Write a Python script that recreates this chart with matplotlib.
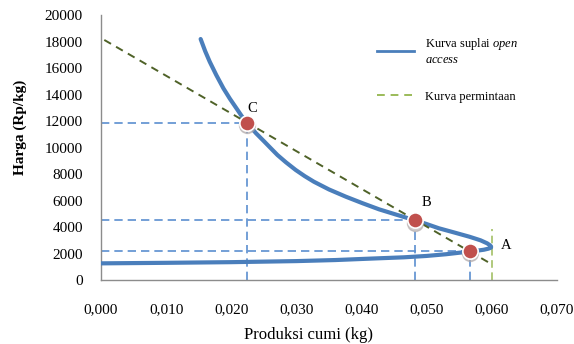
import matplotlib
matplotlib.use("Agg")
import matplotlib.pyplot as plt
from matplotlib.lines import Line2D
from matplotlib.transforms import ScaledTranslation

plt.rcParams['font.family'] = ['Liberation Serif', 'DejaVu Serif']
plt.rcParams['mathtext.fontset'] = 'custom'
plt.rcParams['mathtext.it'] = 'Liberation Serif:italic'
plt.rcParams['mathtext.rm'] = 'Liberation Serif'

# Backward-bending open access supply curve (quantity, price):
# lower branch from the price axis out to the turning point, then back up
supply_q = [0.0000, 0.0100, 0.0200, 0.0300, 0.0360, 0.0420, 0.0465, 0.0500,
            0.0530, 0.0555, 0.0575, 0.0588, 0.0595, 0.0599, 0.0599, 0.0597,
            0.0593, 0.0583, 0.0566, 0.0542, 0.0519, 0.0499, 0.0477, 0.0453,
            0.0427, 0.0402, 0.0376, 0.0350, 0.0327, 0.0313, 0.0299, 0.0284,
            0.0271, 0.0262, 0.0251, 0.0238, 0.0224, 0.0216, 0.0208, 0.0198,
            0.0188, 0.0177, 0.0167, 0.0160, 0.0153]
supply_p = [1260, 1300, 1350, 1430, 1510, 1630, 1716, 1820,
            1950, 2090, 2200, 2290, 2370, 2450, 2540, 2640,
            2775, 3000, 3270, 3600, 3910, 4250, 4590, 4950,
            5345, 5800, 6300, 6850, 7430, 7850, 8320, 8900,
            9450, 9900, 10455, 11100, 11890, 12400, 12980, 13700,
            14490, 15500, 16500, 17300, 18220]

# Demand curve end points
demand_q = [0.0005, 0.0596]
demand_p = [18150, 1310]

# Vertical marker at the maximum supply
max_q = 0.0600
max_p = 3880

# Equilibrium points
point_names = ['C', 'B', 'A']
point_q = [0.0224, 0.0483, 0.0566]
point_p = [11900, 4550, 2220]

x_ticks = [0.00, 0.01, 0.02, 0.03, 0.04, 0.05, 0.06, 0.07]
x_tick_labels = ['0,000', '0,010', '0,020', '0,030', '0,040', '0,050', '0,060', '0,070']
y_ticks = list(range(0, 20001, 2000))

blue = '#4a7ebb'
ref_blue = '#5b8fd0'
olive = '#4f6228'
light_green = '#9bbb59'
red = '#c0504d'

fig = plt.figure(figsize=(5.74, 3.44), dpi=100)
ax = fig.add_axes([0.176, 0.186, 0.794, 0.769])

# Dashed guides from each point to the axes
for q, p in zip(point_q, point_p):
    ax.plot([0, q], [p, p], color=ref_blue, lw=1.2, ls=(0, (5, 3)), zorder=2)
    ax.plot([q, q], [0, p], color=ref_blue, lw=1.2, ls=(0, (5, 3)), zorder=2)

ax.plot([max_q, max_q], [0, max_p], color=light_green, lw=1.1, ls=(0, (5, 3)), zorder=2)

ax.plot(supply_q, supply_p, color=blue, lw=3.0, solid_capstyle='round',
        solid_joinstyle='round', zorder=3)
ax.plot(demand_q, demand_p, color=olive, lw=1.4, ls=(0, (4, 3)), zorder=4)

# Points with a soft shadow
shadow = ax.transData + ScaledTranslation(0, -2 / 72, fig.dpi_scale_trans)
ax.plot(point_q, point_p, 'o', ms=11.5, color='#b0a8a8', alpha=0.6,
        transform=shadow, zorder=5)
ax.plot(point_q, point_p, 'o', ms=11, mfc=red, mec='white', mew=1.2, zorder=6)

label_offsets = [(4.1, 10.4), (7.9, 12.5), (26.6, 3.4)]
for name, q, p, off in zip(point_names, point_q, point_p, label_offsets):
    ax.annotate(name, (q, p), xytext=off, textcoords='offset points',
                fontsize=10.5, ha='center', va='center')

ax.set_xlim(0, 0.07)
ax.set_ylim(0, 20000)
ax.set_xticks(x_ticks)
ax.set_xticklabels(x_tick_labels)
ax.set_yticks(y_ticks)
ax.tick_params(axis='both', length=0, labelsize=11)
ax.tick_params(axis='x', pad=17)
ax.tick_params(axis='y', pad=13)
for s in ['top', 'right']:
    ax.spines[s].set_visible(False)
for s in ['left', 'bottom']:
    ax.spines[s].set_color('#8c8c8c')
    ax.spines[s].set_linewidth(1.0)

ax.set_xlabel('Produksi cumi (kg)', fontsize=12, va='center')
ax.xaxis.set_label_coords(0.456, -0.207)
ax.set_ylabel('Harga (Rp/kg)', fontsize=11, fontweight='bold', va='center')
ax.yaxis.set_label_coords(-0.178, 0.578)

handles = [Line2D([], [], color=blue, lw=2.0),
           Line2D([], [], color=light_green, lw=1.4, ls=(0, (4, 3)))]
labels = ['Kurva suplai $\\it{open}$\n$\\it{access}$', 'Kurva permintaan']
ax.legend(handles, labels, loc='upper left', bbox_to_anchor=(0.58, 0.965),
          frameon=False, fontsize=9, handlelength=3.0, labelspacing=2.0,
          handletextpad=0.9)

fig.savefig('out.png', dpi=100)
